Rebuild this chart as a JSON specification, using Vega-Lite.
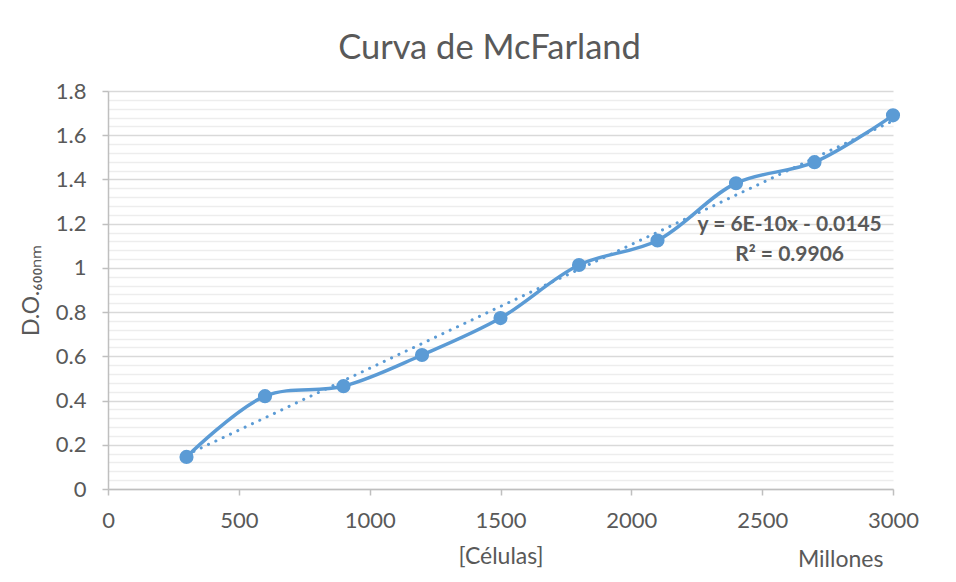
{
  "$schema": "https://vega.github.io/schema/vega-lite/v6.json",
  "autosize": {"type": "none"},
  "padding": {"left": 108, "top": 91, "right": 63, "bottom": 93},
  "width": 785,
  "height": 398,
  "background": "white",
  "title": {
    "text": "Curva de McFarland",
    "font": "Lato",
    "fontSize": 34.5,
    "fontWeight": "normal",
    "color": "#595959",
    "anchor": "middle",
    "dx": -11,
    "offset": 14
  },
  "config": {
    "view": {"stroke": null},
    "font": "Lato",
    "axis": {
      "labelFont": "Lato",
      "labelFontSize": 22,
      "labelColor": "#595959",
      "labelFlush": false,
      "titleFont": "Lato",
      "titleFontSize": 23,
      "titleFontWeight": "normal",
      "titleColor": "#595959",
      "domainColor": "#BFBFBF",
      "tickColor": "#BFBFBF",
      "gridColor": "#D9D9D9",
      "domainWidth": 1.5,
      "tickWidth": 1.5,
      "gridWidth": 1.5
    }
  },
  "data": {
    "values": [
      {"C": 300, "O": 0.145},
      {"C": 600, "O": 0.42},
      {"C": 900, "O": 0.465},
      {"C": 1200, "O": 0.606},
      {"C": 1500, "O": 0.773},
      {"C": 1800, "O": 1.013},
      {"C": 2100, "O": 1.124},
      {"C": 2400, "O": 1.383},
      {"C": 2700, "O": 1.478},
      {"C": 3000, "O": 1.69}
    ]
  },
  "resolve": {"axis": {"y": "independent", "x": "independent"}},
  "layer": [
    {
      "mark": {"type": "rule", "opacity": 0},
      "encoding": {
        "x": {"field": "C", "type": "quantitative", "scale": {"domain": [0, 3000]}, "axis": null},
        "y": {
          "field": "O", "type": "quantitative",
          "scale": {"domain": [0, 1.8]},
          "axis": {
            "orient": "right",
            "values": [0.04,0.08,0.12,0.16,0.24,0.28,0.32,0.36,0.44,0.48,0.52,0.56,0.64,0.68,0.72,0.76,0.84,0.88,0.92,0.96,1.04,1.08,1.12,1.16,1.24,1.28,1.32,1.36,1.44,1.48,1.52,1.56,1.64,1.68,1.72,1.76],
            "grid": true, "gridColor": "#EDEDED", "gridWidth": 1.5,
            "labels": false, "ticks": false, "domain": false, "title": null
          }
        }
      }
    },
    {
      "mark": {"type": "line", "interpolate": "catmull-rom", "color": "#5B9BD5", "strokeWidth": 3.5},
      "encoding": {
        "x": {
          "field": "C", "type": "quantitative",
          "scale": {"domain": [0, 3000]},
          "axis": {
            "values": [0, 500, 1000, 1500, 2000, 2500, 3000],
            "format": "d",
            "grid": false, "tickSize": 6, "labelPadding": 15,
            "title": "[Células]", "titlePadding": 14
          }
        },
        "y": {
          "field": "O", "type": "quantitative",
          "scale": {"domain": [0, 1.8]},
          "axis": {
            "orient": "left",
            "values": [0, 0.2, 0.4, 0.6, 0.8, 1, 1.2, 1.4, 1.6, 1.8],
            "format": ".1~f",
            "grid": true, "tickSize": 6, "labelPadding": 16,
            "title": "D.O.₆₀₀ₙₘ", "titlePadding": 12
          }
        }
      }
    },
    {
      "transform": [{"regression": "O", "on": "C", "extent": [300, 3000]}],
      "mark": {"type": "line", "color": "#5B9BD5", "strokeWidth": 3, "strokeDash": [0.1, 8], "strokeCap": "round"},
      "encoding": {
        "x": {"field": "C", "type": "quantitative", "scale": {"domain": [0, 3000]}, "axis": null},
        "y": {"field": "O", "type": "quantitative", "scale": {"domain": [0, 1.8]}, "axis": null}
      }
    },
    {
      "mark": {"type": "point", "filled": true, "opacity": 1, "color": "#5B9BD5", "size": 200},
      "encoding": {
        "x": {"field": "C", "type": "quantitative", "scale": {"domain": [0, 3000]}, "axis": null},
        "y": {"field": "O", "type": "quantitative", "scale": {"domain": [0, 1.8]}, "axis": null}
      }
    },
    {
      "data": {"values": [
        {"C": 2605, "O": 1.194, "t": "y = 6E-10x - 0.0145"},
        {"C": 2605, "O": 1.06, "t": "R² = 0.9906"}
      ]},
      "mark": {"type": "text", "font": "Lato", "fontSize": 21, "fontWeight": "bold", "color": "#595959", "align": "center", "baseline": "middle"},
      "encoding": {
        "x": {"field": "C", "type": "quantitative", "scale": {"domain": [0, 3000]}, "axis": null},
        "y": {"field": "O", "type": "quantitative", "scale": {"domain": [0, 1.8]}, "axis": null},
        "text": {"field": "t"}
      }
    },
    {
      "data": {"values": [{"C": 2800, "O": 0, "t": "Millones"}]},
      "mark": {"type": "text", "font": "Lato", "fontSize": 23, "color": "#595959", "align": "center", "baseline": "middle", "dy": 71},
      "encoding": {
        "x": {"field": "C", "type": "quantitative", "scale": {"domain": [0, 3000]}, "axis": null},
        "y": {"field": "O", "type": "quantitative", "scale": {"domain": [0, 1.8]}, "axis": null},
        "text": {"field": "t"}
      }
    }
  ]
}
